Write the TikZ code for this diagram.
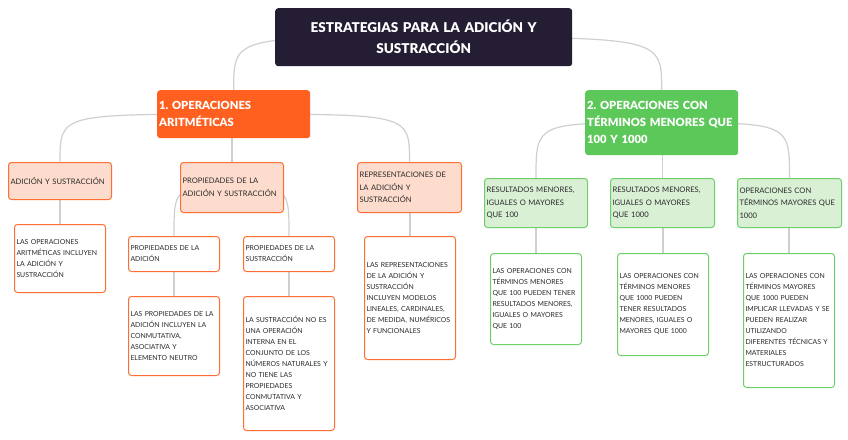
\documentclass[tikz,border=0pt]{standalone}
\usepackage{fontspec}
\setmainfont{Lato}
\newfontfamily\headfont{Lato}[BoldFont={Lato Black}]
\usetikzlibrary{backgrounds}
\definecolor{RootInk}{HTML}{241D33}
\definecolor{OrangeMain}{HTML}{FF5F1F}
\definecolor{OrangeSoft}{HTML}{FDDCCD}
\definecolor{OrangeLine}{HTML}{FF6E33}
\definecolor{GreenMain}{HTML}{5DC85A}
\definecolor{GreenSoft}{HTML}{D9F0D5}
\definecolor{GreenLine}{HTML}{6CCF69}
\definecolor{LinkGray}{HTML}{CFCFCF}
\definecolor{TextInk}{HTML}{2A2A2A}
\frenchspacing

\begin{document}
\begin{tikzpicture}[x=1pt, y=-1pt,
    every node/.style={anchor=north west, inner ysep=0pt, inner xsep=2pt},
    card/.style={rounded corners=3pt, line width=1pt, align=left,
                 text=TextInk, font=\fontsize{6.9}{11}\selectfont},
    rootbox/.style={fill=RootInk, rounded corners=3pt, text=white, align=center,
                    font=\headfont\bfseries\fontsize{13.5}{21}\selectfont},
    headbox/.style={rounded corners=3pt, text=white, align=left,
                    font=\headfont\bfseries\fontsize{11.2}{17}\selectfont},
    osub/.style={card, draw=OrangeLine, fill=OrangeSoft, font=\fontsize{7.6}{12.5}\selectfont},
    oleaf/.style={card, draw=OrangeLine, fill=white},
    gsub/.style={card, draw=GreenLine, fill=GreenSoft, font=\fontsize{7.6}{12.5}\selectfont},
    gleaf/.style={card, draw=GreenLine, fill=white},
    link/.style={draw=LinkGray, line width=1.2pt}]
  \useasboundingbox (0,0) rectangle (848,439);

  % root and main branches
  \node[rootbox, text width=293pt, minimum height=58pt] (root) at (275,8)
    {ESTRATEGIAS PARA LA ADICIÓN Y\\SUSTRACCIÓN};
  \node[headbox, fill=OrangeMain, text width=149pt, minimum height=48pt] (arit) at (157,90)
    {1. OPERACIONES\\ARITMÉTICAS};
  \node[headbox, fill=GreenMain, text width=149pt, minimum height=65pt] (menor) at (585,90)
    {2. OPERACIONES CON\\TÉRMINOS MENORES QUE\\100 Y 1000};

  % orange branch
  \node[osub, text width=99pt, minimum height=37pt] (adsus) at (8,162)
    {ADICIÓN Y SUSTRACCIÓN};
  \node[osub, text width=99pt, minimum height=50pt] (prop) at (180,162)
    {PROPIEDADES DE LA\\ADICIÓN Y SUSTRACCIÓN};
  \node[osub, text width=100pt, minimum height=50pt] (repr) at (357,162)
    {REPRESENTACIONES DE\\LA ADICIÓN Y\\SUSTRACCIÓN};
  \node[oleaf, text width=87pt, minimum height=68pt] (adsusD) at (14,224)
    {LAS OPERACIONES\\ARITMÉTICAS INCLUYEN\\LA ADICIÓN Y\\SUSTRACCIÓN};
  \node[oleaf, text width=87pt, minimum height=35pt] (propAd) at (128,236)
    {PROPIEDADES DE LA\\ADICIÓN};
  \node[oleaf, text width=87pt, minimum height=35pt] (propSu) at (243,236)
    {PROPIEDADES DE LA\\SUSTRACCIÓN};
  \node[oleaf, text width=87pt, minimum height=123pt] (reprD) at (364,236)
    {LAS REPRESENTACIONES\\DE LA ADICIÓN Y\\SUSTRACCIÓN\\INCLUYEN MODELOS\\LINEALES, CARDINALES,\\DE MEDIDA, NUMÉRICOS\\Y FUNCIONALES};
  \node[oleaf, text width=87pt, minimum height=79pt] (propAdD) at (128,296)
    {LAS PROPIEDADES DE LA\\ADICIÓN INCLUYEN LA\\CONMUTATIVA,\\ASOCIATIVA Y\\ELEMENTO NEUTRO};
  \node[oleaf, text width=87pt, minimum height=134pt] (propSuD) at (243,296)
    {LA SUSTRACCIÓN NO ES\\UNA OPERACIÓN\\INTERNA EN EL\\CONJUNTO DE LOS\\NÚMEROS NATURALES Y\\NO TIENE LAS\\PROPIEDADES\\CONMUTATIVA Y\\ASOCIATIVA};

  % green branch
  \node[gsub, text width=99pt, minimum height=49pt] (cien) at (484,178)
    {RESULTADOS MENORES,\\IGUALES O MAYORES\\QUE 100};
  \node[gsub, text width=100pt, minimum height=49pt] (mil) at (610,178)
    {RESULTADOS MENORES,\\IGUALES O MAYORES\\QUE 1000};
  \node[gsub, text width=100pt, minimum height=49pt] (mayor) at (737,178)
    {OPERACIONES CON\\TÉRMINOS MAYORES QUE\\1000};
  \node[gleaf, text width=87pt, minimum height=91pt] (cienD) at (490,253)
    {LAS OPERACIONES CON\\TÉRMINOS MENORES\\QUE 100 PUEDEN TENER\\RESULTADOS MENORES,\\IGUALES O MAYORES\\QUE 100};
  \node[gleaf, text width=87pt, minimum height=102pt] (milD) at (617,253)
    {LAS OPERACIONES CON\\TÉRMINOS MENORES\\QUE 1000 PUEDEN\\TENER RESULTADOS\\MENORES, IGUALES O\\MAYORES QUE 1000};
  \node[gleaf, text width=87pt, minimum height=134pt] (mayorD) at (743,253)
    {LAS OPERACIONES CON\\TÉRMINOS MAYORES\\QUE 1000 PUEDEN\\IMPLICAR LLEVADAS Y SE\\PUEDEN REALIZAR\\UTILIZANDO\\DIFERENTES TÉCNICAS Y\\MATERIALES\\ESTRUCTURADOS};

  % connectors behind the boxes
  \begin{scope}[on background layer]
    \draw[link] (root.center) .. controls (arit.north |- root.center) .. (arit.north);
    \draw[link] (root.center) .. controls (menor.north |- root.center) .. (menor.north);
    \draw[link] (arit.center) .. controls (adsus.north |- arit.center) .. (adsus.north);
    \draw[link] (prop.north) -- (prop.north |- arit.south);
    \draw[link] (arit.center) .. controls (repr.north |- arit.center) .. (repr.north);
    \draw[link] (prop.center) .. controls (propAd.north |- prop.center) .. (propAd.north);
    \draw[link] (prop.center) .. controls (propSu.north |- prop.center) .. (propSu.north);
    \draw[link] (adsusD.north) -- (adsusD.north |- adsus.south);
    \draw[link] (propAdD.north) -- (propAdD.north |- propAd.south);
    \draw[link] (propSuD.north) -- (propSuD.north |- propSu.south);
    \draw[link] (reprD.north) -- (reprD.north |- repr.south);
    \draw[link] (menor.center) .. controls (cien.north |- menor.center) .. (cien.north);
    \draw[link] (mil.north) -- (mil.north |- menor.south);
    \draw[link] (menor.center) .. controls (mayor.north |- menor.center) .. (mayor.north);
    \draw[link] (cienD.north) -- (cienD.north |- cien.south);
    \draw[link] (milD.north) -- (milD.north |- mil.south);
    \draw[link] (mayorD.north) -- (mayorD.north |- mayor.south);
  \end{scope}
\end{tikzpicture}
\end{document}
